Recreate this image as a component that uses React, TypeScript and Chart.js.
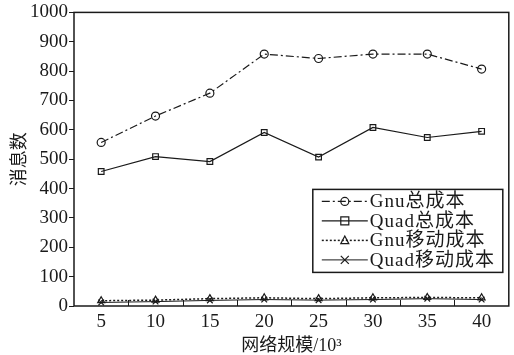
import React, { useEffect, useRef } from "react";
import { Chart, registerables } from "chart.js";

Chart.register(...registerables);

const categories = ["5", "10", "15", "20", "25", "30", "35", "40"];
const gnuTotal = [557, 647, 725, 858, 843, 858, 858, 807];
const quadTotal = [458, 509, 492, 591, 507, 608, 574, 595];
const gnuMove = [18, 20, 25, 28, 25, 28, 29, 28];
const quadMove = [12, 15, 19, 22, 20, 22, 25, 22];
const seriesNames = ["Gnu总成本", "Quad总成本", "Gnu移动成本", "Quad移动成本"];
const xTitle = "网络规模/10³";
const yTitle = "消息数";

const INK = "#1a1a1a";
const NUM_FONT = '"Liberation Serif", "DejaVu Serif", serif';
const CJK_FONT = '"Liberation Serif", "Noto Sans CJK SC", sans-serif';

function drawMarker(ctx: CanvasRenderingContext2D, style: string, x: number, y: number, r: number) {
  ctx.beginPath();
  if (style === "circle") {
    ctx.arc(x, y, r, 0, Math.PI * 2);
  } else if (style === "rect") {
    ctx.rect(x - r, y - r, 2 * r, 2 * r);
  } else if (style === "triangle") {
    ctx.moveTo(x, y - r * 1.1);
    ctx.lineTo(x + r, y + r * 0.8);
    ctx.lineTo(x - r, y + r * 0.8);
    ctx.closePath();
  } else if (style === "crossRot") {
    ctx.moveTo(x - r, y - r);
    ctx.lineTo(x + r, y + r);
    ctx.moveTo(x + r, y - r);
    ctx.lineTo(x - r, y + r);
  }
  ctx.stroke();
}

const framePlugin = {
  id: "frame",
  afterDraw(chart: any) {
    const { ctx, chartArea } = chart;
    const xs = chart.scales.x;
    ctx.save();
    ctx.strokeStyle = INK;
    ctx.lineWidth = 1.5;
    ctx.strokeRect(chartArea.left, chartArea.top, chartArea.right - chartArea.left, chartArea.bottom - chartArea.top);
    ctx.lineWidth = 1;
    for (let i = 1; i < categories.length; i++) {
      const px = Math.round((xs.getPixelForValue(i - 1) + xs.getPixelForValue(i)) / 2) + 0.5;
      ctx.beginPath();
      ctx.moveTo(px, chartArea.bottom);
      ctx.lineTo(px, chartArea.bottom - 6);
      ctx.stroke();
    }
    const w = 190;
    const h = 83;
    const left = chartArea.right - 6 - w;
    const top = chartArea.top + 177;
    ctx.fillStyle = "#fff";
    ctx.fillRect(left, top, w, h);
    ctx.lineWidth = 1.5;
    ctx.strokeRect(left, top, w, h);
    ctx.font = "19px " + CJK_FONT;
    (ctx as any).letterSpacing = "1px";
    ctx.textBaseline = "middle";
    ctx.textAlign = "left";
    chart.data.datasets.forEach((ds: any, i: number) => {
      const cy = top + 12 + i * 19.5;
      ctx.strokeStyle = INK;
      ctx.lineWidth = ds.borderWidth;
      ctx.setLineDash(ds.borderDash || []);
      ctx.beginPath();
      ctx.moveTo(left + 9, cy);
      ctx.lineTo(left + 55, cy);
      ctx.stroke();
      ctx.setLineDash([]);
      ctx.lineWidth = 1.2;
      drawMarker(ctx, ds.pointStyle, left + 32, cy, ds.pointRadius);
      ctx.fillStyle = INK;
      ctx.fillText(ds.label, left + 57, cy + 1);
    });
    (ctx as any).letterSpacing = "0px";
    ctx.restore();
  },
};

export default function App() {
  const ref = useRef<HTMLCanvasElement>(null);
  useEffect(() => {
    const common = {
      borderColor: INK,
      pointBorderColor: INK,
      pointBackgroundColor: "transparent",
      pointBorderWidth: 1.2,
      tension: 0,
    };
    const chart = new Chart(ref.current!, {
      type: "line",
      data: {
        labels: categories,
        datasets: [
          { ...common, label: seriesNames[0], data: gnuTotal, borderWidth: 1.2, borderDash: [8, 3, 2, 3], pointStyle: "circle", pointRadius: 4 },
          { ...common, label: seriesNames[1], data: quadTotal, borderWidth: 1.2, borderDash: [], pointStyle: "rect", pointRadius: 4 },
          { ...common, label: seriesNames[2], data: gnuMove, borderWidth: 1.5, borderDash: [2, 2], pointStyle: "triangle", pointRadius: 4 },
          { ...common, label: seriesNames[3], data: quadMove, borderWidth: 1, borderDash: [], pointStyle: "crossRot", pointRadius: 4 },
        ] as any,
      },
      options: {
        animation: false,
        responsive: false,
        devicePixelRatio: 1,
        layout: { padding: { left: 0, right: 5, top: 6, bottom: 0 } },
        plugins: { legend: { display: false }, tooltip: { enabled: false } },
        scales: {
          x: {
            type: "category",
            offset: true,
            grid: { display: false, drawTicks: false, tickLength: 0 },
            border: { display: false },
            ticks: { color: INK, font: { size: 19, family: NUM_FONT }, padding: 5, maxRotation: 0 },
            title: { display: true, text: xTitle, color: INK, font: { size: 18, family: CJK_FONT }, padding: { top: 0, bottom: -2 } },
            afterFit(scale: any) {
              scale.height = 49;
            },
          },
          y: {
            min: 0,
            max: 1000,
            ticks: {
              stepSize: 100,
              color: INK,
              font: { size: 19, family: NUM_FONT },
              padding: 1,
              callback: (v: any) => String(v),
            },
            grid: { drawOnChartArea: false, tickLength: 5, color: INK, lineWidth: 1 },
            border: { display: false },
            title: { display: true, text: yTitle, color: INK, font: { size: 18, family: CJK_FONT }, padding: { top: 9, bottom: 0 } },
            afterFit(scale: any) {
              scale.width = 74;
            },
          },
        },
      } as any,
      plugins: [framePlugin],
    });
    return () => chart.destroy();
  }, []);
  return (
    <div style={{ position: "absolute", left: 0, top: 0, width: 514, height: 355 }}>
      <canvas ref={ref} width={514} height={355} />
    </div>
  );
}
